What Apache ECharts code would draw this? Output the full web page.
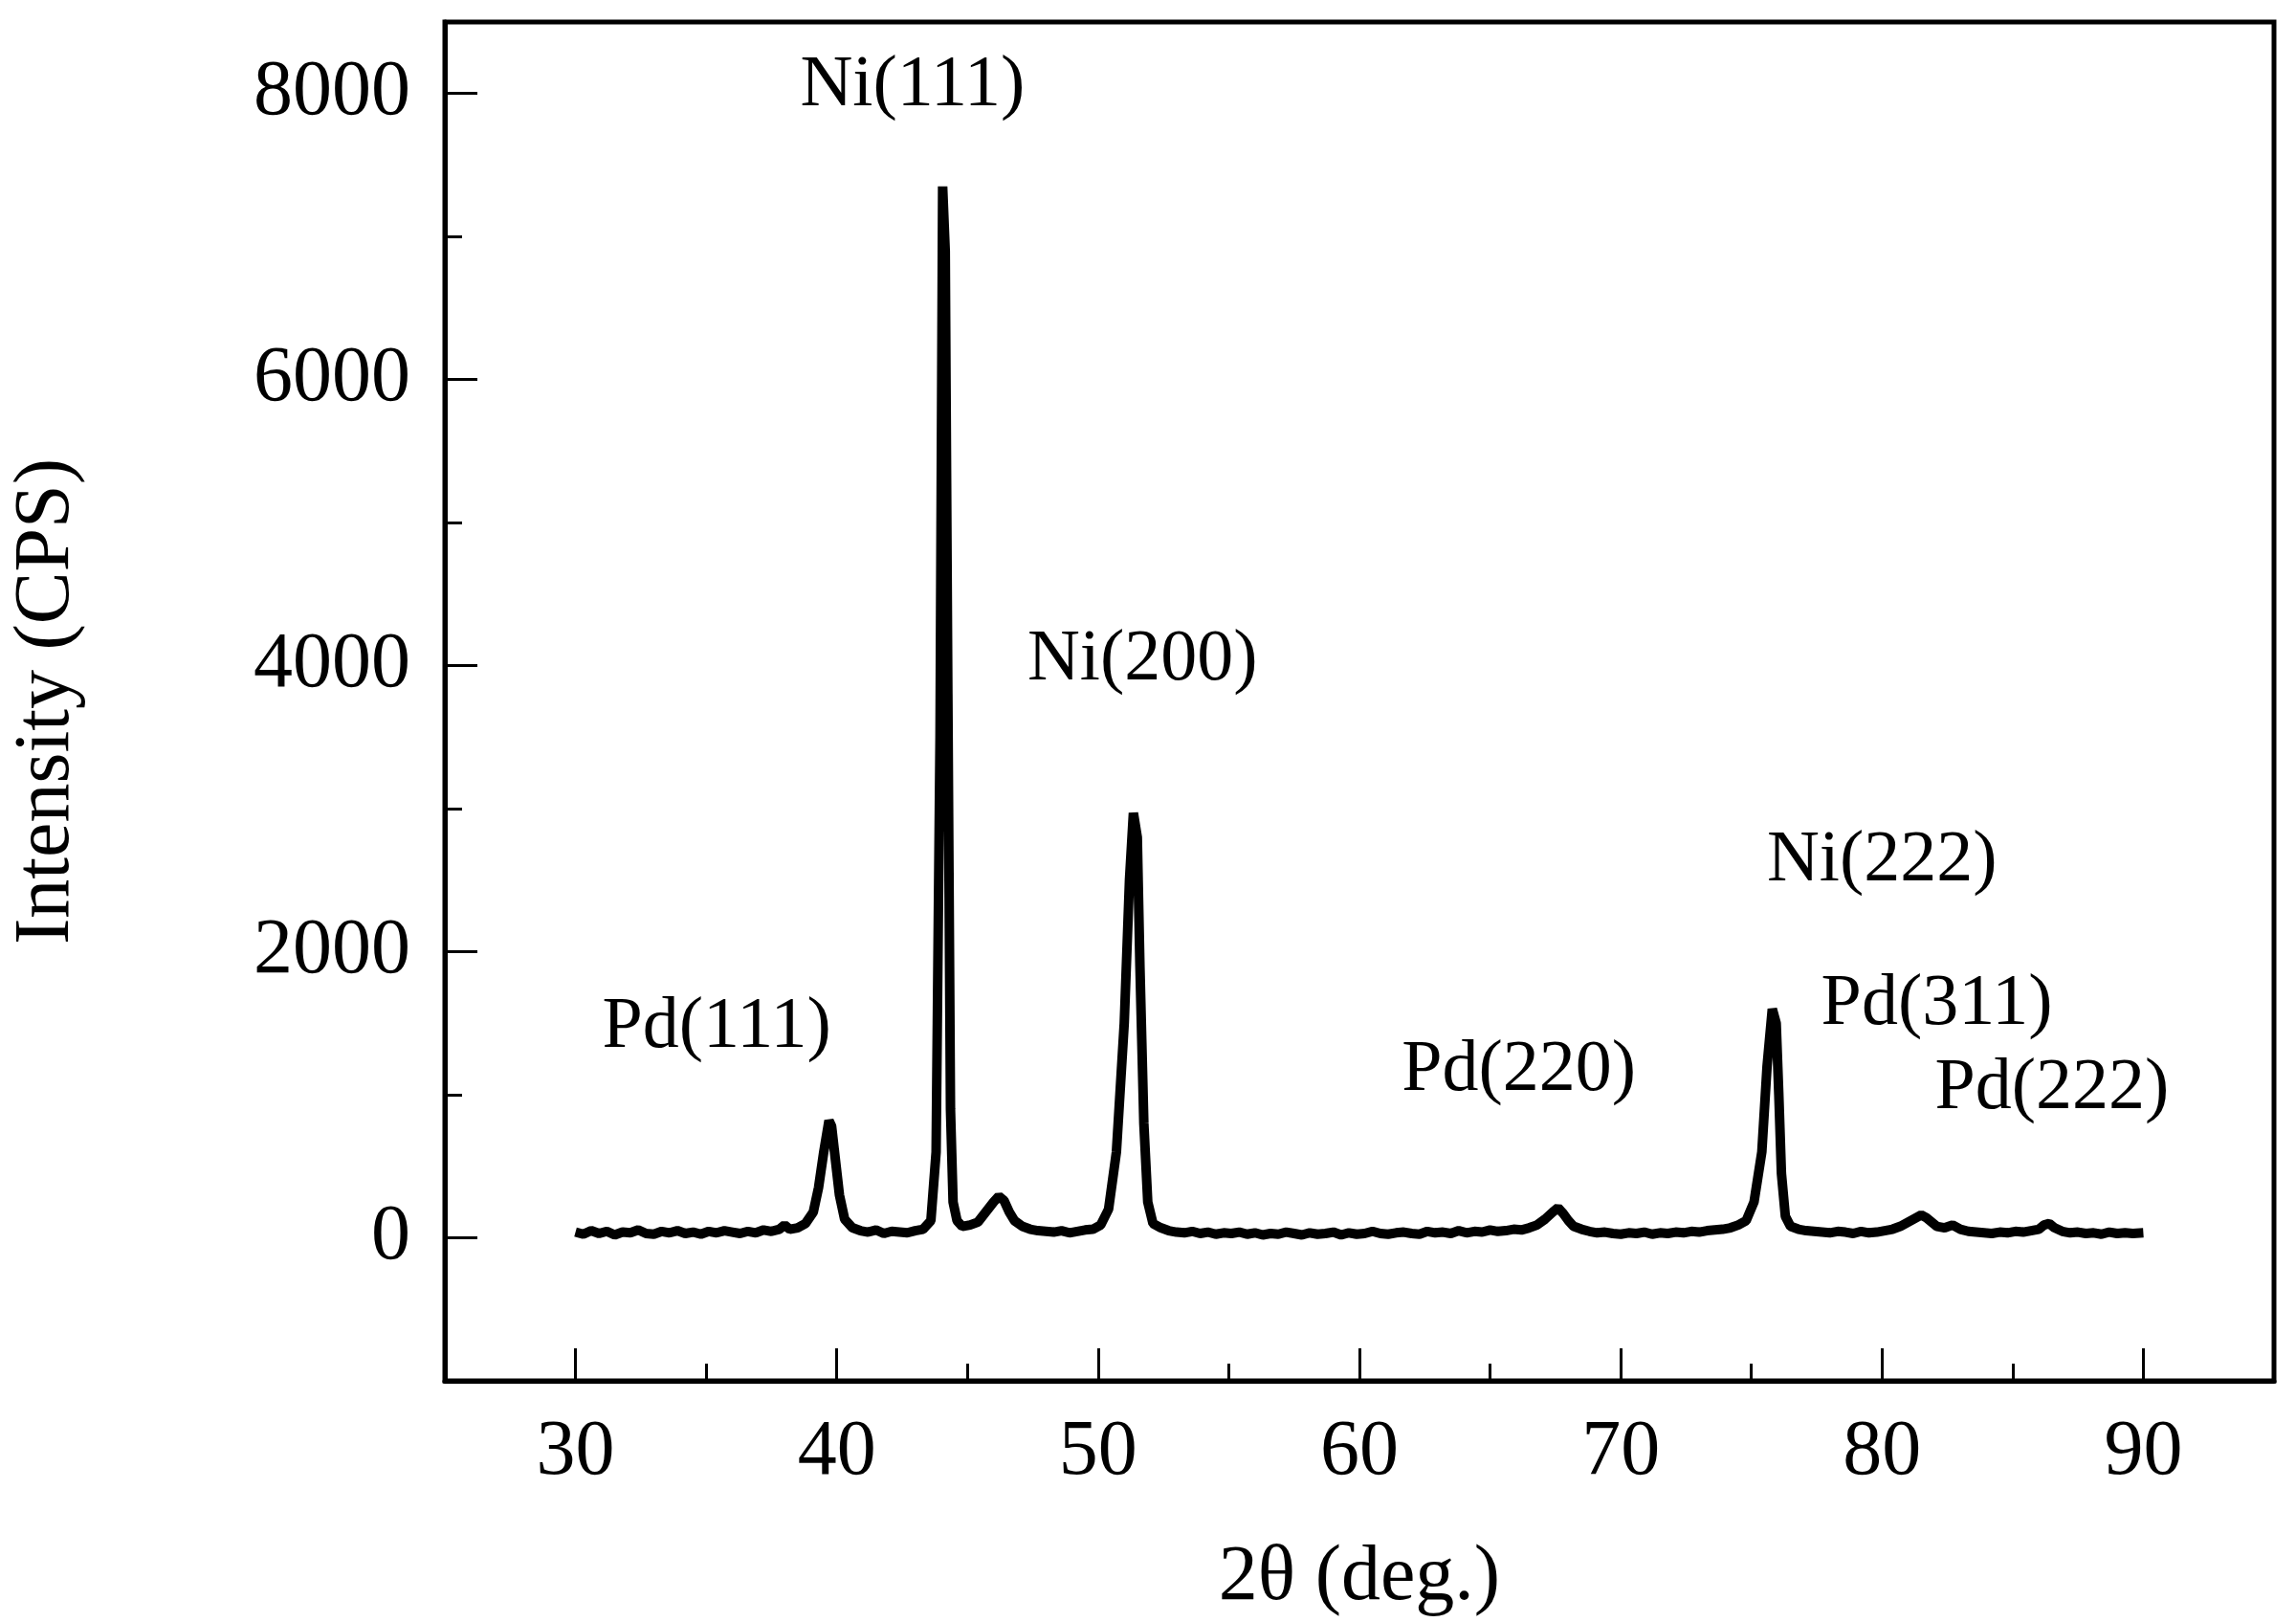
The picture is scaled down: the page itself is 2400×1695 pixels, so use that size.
<!DOCTYPE html>
<html>
<head>
<meta charset="utf-8">
<script src="https://cdn.jsdelivr.net/npm/echarts@6/dist/echarts.min.js"></script>
<style>html,body{margin:0;background:#fff}#chart{width:2400px;height:1695px}</style>
</head>
<body>
<div id="chart"></div>
<script>
// 2theta / intensity pairs
var twoTheta = [
  30.0,30.3,30.6,30.9,31.2,31.5,31.8,32.1,32.4,32.7,33.0,33.3,33.6,33.9,34.2,34.5,34.8,35.1,35.4,35.7,
  36.0,36.3,36.6,36.9,37.2,37.5,37.8,38.0,38.2,38.5,38.8,39.1,39.3,39.5,39.7,39.8,39.9,40.1,40.3,40.6,
  40.9,41.2,41.5,41.8,42.1,42.4,42.7,43.0,43.3,43.6,43.8,43.95,44.05,44.15,44.25,44.35,44.45,44.6,44.8,45.1,
  45.4,45.7,46.0,46.2,46.4,46.6,46.8,47.1,47.4,47.7,48.0,48.3,48.6,48.9,49.2,49.5,49.8,50.1,50.4,50.7,
  51.0,51.2,51.35,51.5,51.6,51.75,51.9,52.1,52.4,52.7,53.0,53.3,53.6,53.9,54.2,54.5,54.8,55.1,55.4,55.7,
  56.0,56.3,56.6,56.9,57.2,57.5,57.8,58.1,58.4,58.7,59.0,59.3,59.6,59.9,60.2,60.5,60.8,61.1,61.4,61.7,
  62.0,62.3,62.6,62.9,63.2,63.5,63.8,64.1,64.4,64.7,65.0,65.3,65.6,65.9,66.2,66.5,66.8,67.1,67.4,67.6,
  67.8,68.0,68.2,68.5,68.8,69.1,69.4,69.7,70.0,70.3,70.6,70.9,71.2,71.5,71.8,72.1,72.4,72.7,73.0,73.3,
  73.6,73.9,74.2,74.5,74.8,75.1,75.4,75.6,75.8,75.95,76.05,76.15,76.3,76.5,76.8,77.1,77.4,77.7,78.0,78.3,
  78.6,78.9,79.2,79.5,79.8,80.1,80.4,80.7,81.0,81.3,81.5,81.7,81.9,82.1,82.4,82.7,83.0,83.3,83.6,83.9,
  84.2,84.5,84.8,85.1,85.4,85.7,86.0,86.2,86.4,86.6,86.9,87.2,87.5,87.8,88.1,88.4,88.7,89.0,89.3,89.6,90.0
];
var intensity = [
  40,25,50,30,45,20,40,35,55,30,25,45,35,50,30,40,25,45,35,50,
  40,30,45,35,55,45,60,90,60,70,100,180,350,600,820,780,620,300,130,70,
  50,40,55,30,45,40,35,50,60,120,600,3500,7350,6900,3800,900,250,120,80,90,
  110,180,250,290,260,180,120,80,60,50,45,40,50,35,45,55,60,90,200,600,
  1500,2500,2970,2800,1900,800,250,100,70,50,40,35,45,30,40,25,35,30,40,25,
  35,20,30,25,40,30,20,35,25,30,40,20,35,25,30,45,30,25,35,40,
  30,25,45,35,40,30,50,35,45,40,55,45,50,60,55,70,90,130,180,210,
  170,120,80,60,45,35,40,30,25,35,30,40,25,35,30,40,35,45,40,50,
  55,60,70,90,120,250,600,1200,1600,1500,1000,450,150,80,60,50,45,40,35,45,
  40,30,45,35,40,50,60,80,110,140,160,140,110,80,70,90,60,45,40,35,
  30,40,35,45,40,50,60,90,100,70,45,35,40,30,35,25,40,30,35,30,35
];
var peakNames = ['Pd(111)','Ni(111)','Ni(200)','Pd(220)','Ni(222)','Pd(311)','Pd(222)'];
var labelX = [35.4, 42.9, 51.7, 66.1, 80.0, 82.1, 86.5];
var labelY = [1470, 8050, 4040, 1170, 2630, 1630, 1040];
var xMajor = [30, 40, 50, 60, 70, 80, 90];
var xMinor = [35, 45, 55, 65, 75, 85];
var yMajor = [0, 2000, 4000, 6000, 8000];
var yMinor = [1000, 3000, 5000, 7000];

var font = '"Liberation Serif", "DejaVu Serif", serif';
var pattern = twoTheta.map(function (t, i) { return [t, intensity[i]]; });

function xAxisDef(ticks, len, show) {
  return {
    type: 'value', min: 25, max: 95, position: 'bottom',
    axisLine: {show: show, onZero: false, lineStyle: {color: '#000', width: 5}},
    axisTick: {show: true, inside: true, length: len, customValues: ticks, lineStyle: {color: '#000', width: 3}},
    axisLabel: {show: show, customValues: ticks, margin: 34, color: '#000', fontFamily: font, fontSize: 82,
      formatter: function (v) { return String(v); }},
    splitLine: {show: false},
    name: show ? '2θ (deg.)' : '', nameLocation: 'middle', nameGap: 165,
    nameTextStyle: {color: '#000', fontFamily: font, fontSize: 82}
  };
}
function yAxisDef(ticks, len, show) {
  return {
    type: 'value', min: -1000, max: 8500, position: 'left',
    axisLine: {show: show, onZero: false, lineStyle: {color: '#000', width: 5}},
    axisTick: {show: true, inside: true, length: len, customValues: ticks, lineStyle: {color: '#000', width: 3}},
    axisLabel: {show: show, customValues: ticks, margin: 36, color: '#000', fontFamily: font, fontSize: 82,
      formatter: function (v) { return String(v); }},
    splitLine: {show: false},
    name: show ? 'Intensity (CPS)' : '', nameLocation: 'middle', nameGap: 375,
    nameTextStyle: {color: '#000', fontFamily: font, fontSize: 82}
  };
}

var chart = echarts.init(document.getElementById('chart'));
chart.setOption({
  backgroundColor: '#fff',
  animation: false,
  grid: {left: 462, right: 23, top: 23, bottom: 251,
    show: true, borderColor: '#000', borderWidth: 5},
  xAxis: [xAxisDef(xMajor, 34, true), xAxisDef(xMinor, 18, false)],
  yAxis: [yAxisDef(yMajor, 34, true), yAxisDef(yMinor, 18, false)],
  series: [{
    type: 'line', data: pattern, showSymbol: false,
    lineStyle: {color: '#000', width: 10},
    markPoint: {
      symbol: 'circle', symbolSize: 0,
      label: {show: true, position: 'inside', color: '#000', fontFamily: font, fontSize: 76,
        formatter: function (p) { return p.name; }},
      data: peakNames.map(function (n, i) { return {name: n, coord: [labelX[i], labelY[i]]}; })
    }
  }]
});
</script>
</body>
</html>
